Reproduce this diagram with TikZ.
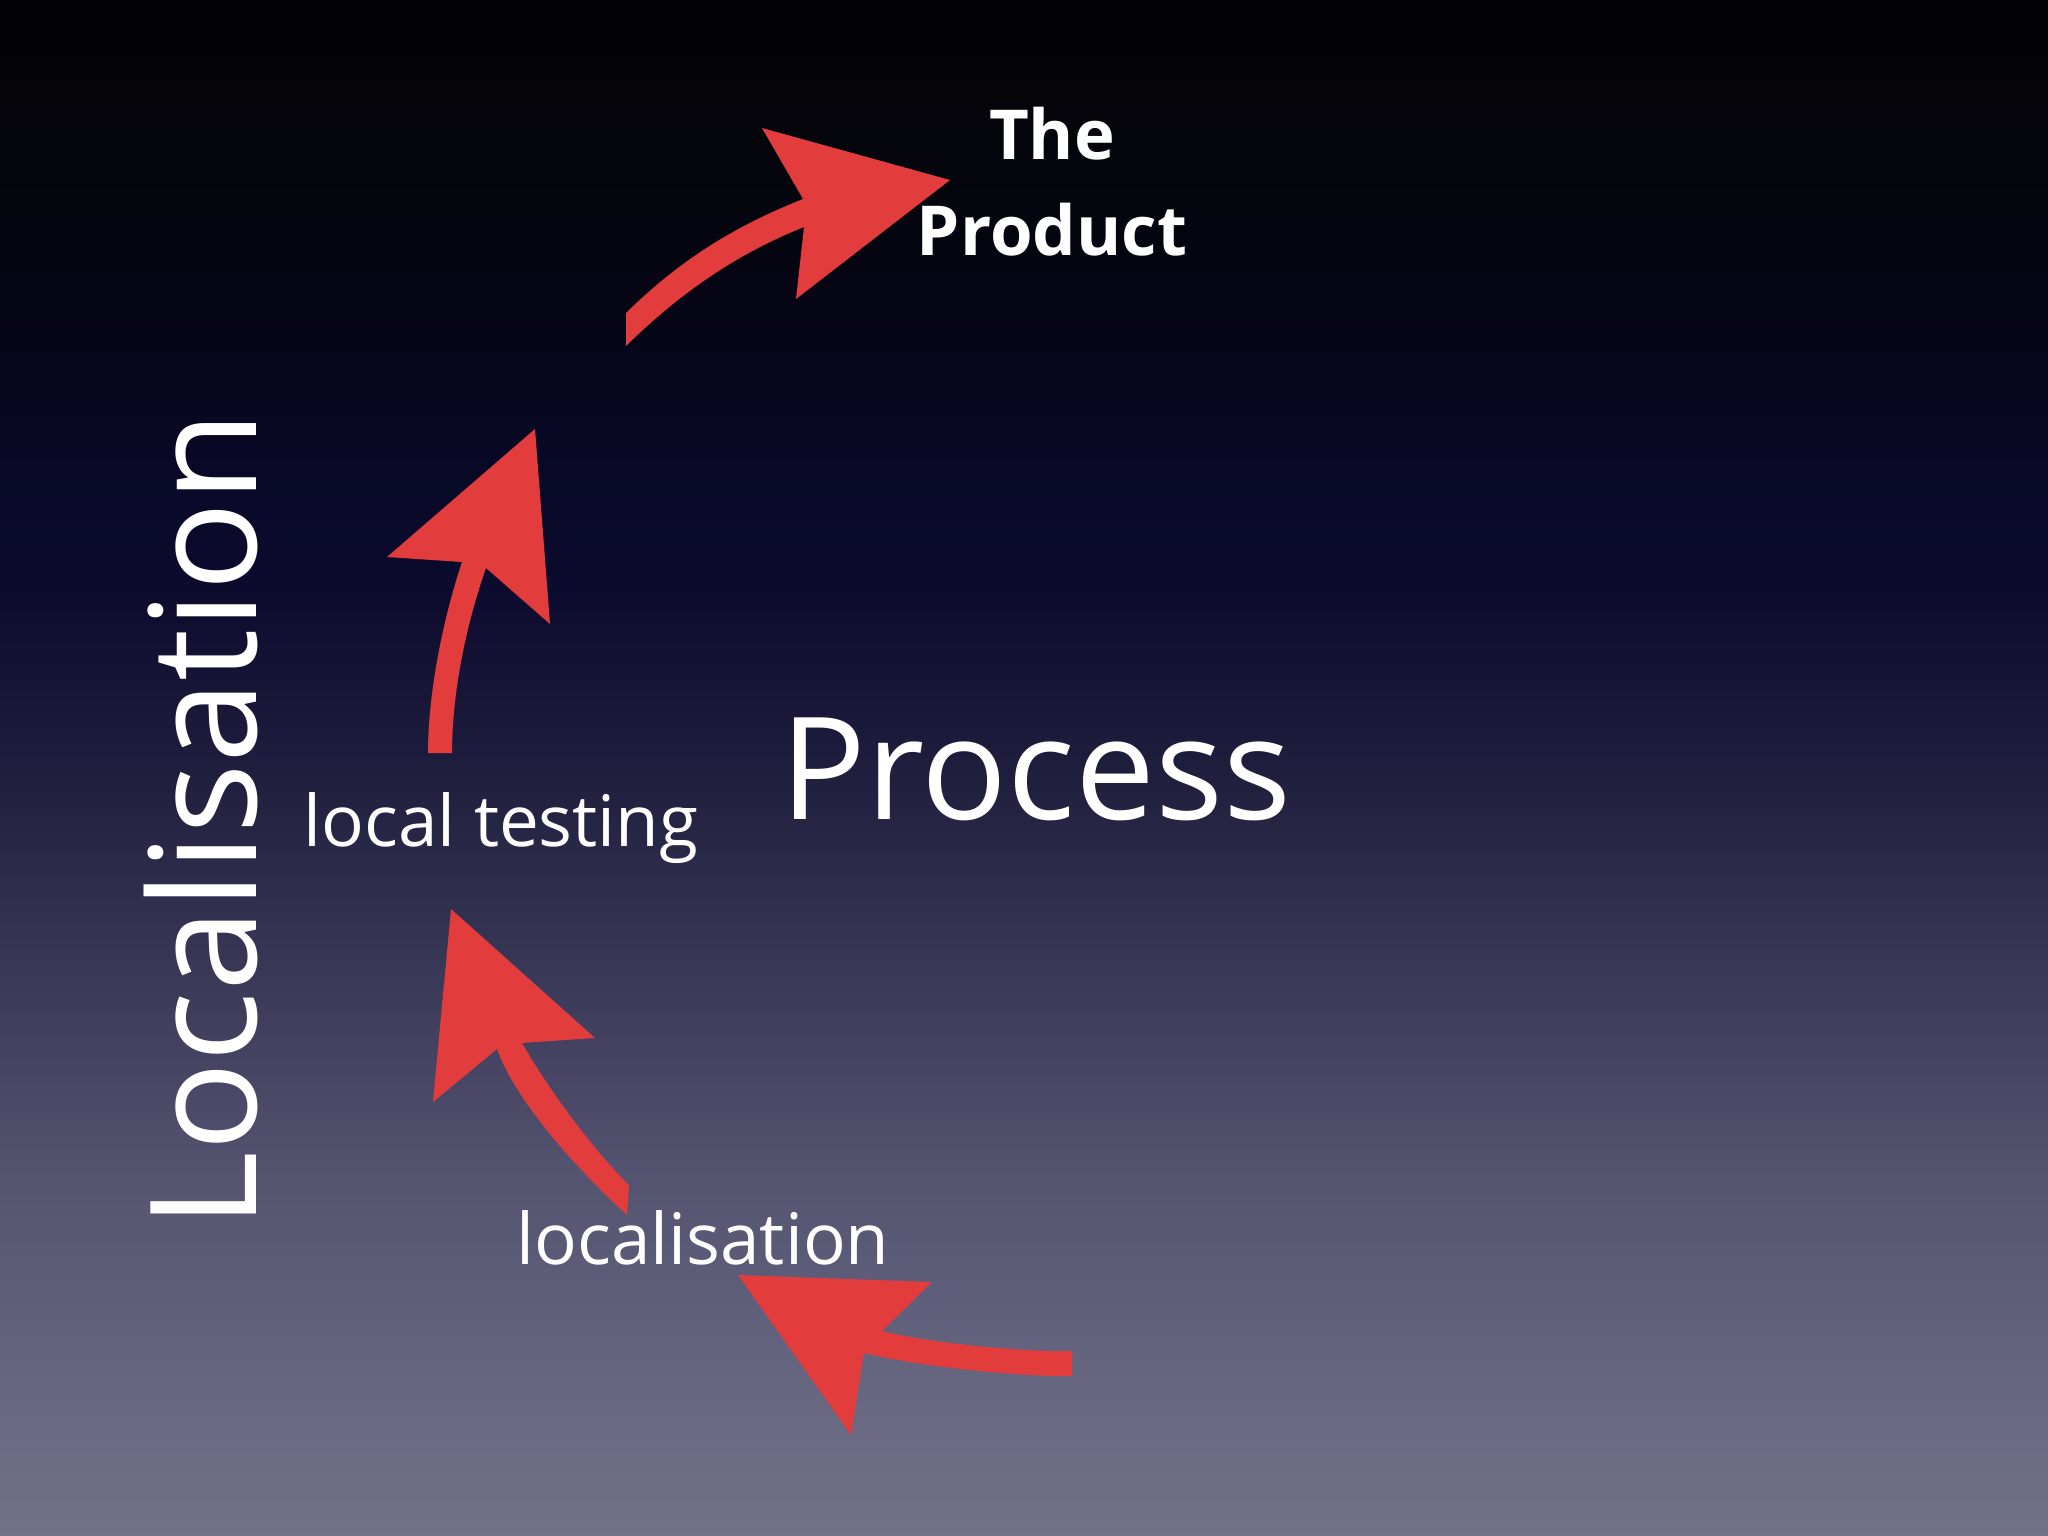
\documentclass[tikz,border=0pt]{standalone}
\usepackage{fontspec}
\setmainfont{Open Sans}
\IfFontExistsTF{Open Sans SemiBold}{\newfontfamily\semib{Open Sans SemiBold}}{\newcommand\semib{\bfseries}}
\definecolor{arrowred}{HTML}{E23C3C}
\definecolor{bgA}{HTML}{737189}
\definecolor{bgB}{HTML}{666580}
\definecolor{bgC}{HTML}{545370}
\definecolor{bgD}{HTML}{3B3958}
\definecolor{bgE}{HTML}{201F3E}
\definecolor{bgF}{HTML}{0C0B2E}
\definecolor{bgG}{HTML}{080826}
\definecolor{bgH}{HTML}{050510}
\definecolor{bgI}{HTML}{030305}
\pgfdeclareverticalshading{slidebg}{100bp}{color(0bp)=(bgA); color(25bp)=(bgA); color(30.4bp)=(bgB); color(36.75bp)=(bgC); color(43.1bp)=(bgD); color(49.6bp)=(bgE); color(55.8bp)=(bgF); color(60.35bp)=(bgG); color(66.85bp)=(bgH); color(75bp)=(bgI); color(100bp)=(bgI)}
\begin{document}
\begin{tikzpicture}[x=0.01cm,y=-0.01cm,
  label/.style={text=white, inner sep=0pt, outer sep=0pt},
  arrowshape/.style={fill=arrowred, draw=none}]
\useasboundingbox (0,0) rectangle (2048,1536);
\shade[shading=slidebg] (0,0) rectangle (2048,1536);

% texts
\node[label, anchor=base, font=\fontsize{19.6}{24}\selectfont\semib] (the) at (1052,159) {The};
\node[label, anchor=base, font=\fontsize{19.6}{24}\selectfont\semib] (product) at (1052,255) {Product};
\node[label, anchor=base, font=\fontsize{40.5}{48}\selectfont] (process) at (1036,819) {Process};
\node[label, anchor=base, font=\fontsize{20.2}{24}\selectfont] (localtesting) at (501,846) {local testing};
\node[label, anchor=base, font=\fontsize{20.2}{24}\selectfont] (localisation) at (703,1264) {localisation};
\node[label, anchor=base, rotate=90, font=\fontsize{42.1}{50}\selectfont] (vertical) at (256,820) {Localisation};

% arrow towards "The Product"
\fill[arrowshape] (950,180) -- (762,128) -- (803,199)
  .. controls (743,223) and (686,254) .. (626,313)
  -- (626,346)
  .. controls (686,287) and (744,251) .. (804,227)
  -- (796,299) -- cycle;

% arrow above "local testing"
\fill[arrowshape] (535,429) -- (387,557) -- (462,562)
  .. controls (443,619) and (428,693) .. (428,753)
  -- (452,753)
  .. controls (452,693) and (466,625) .. (486,568)
  -- (550,624) -- cycle;

% arrow above "localisation"
\fill[arrowshape] (451,909) -- (433,1102) -- (497,1049)
  .. controls (517,1105) and (586,1178) .. (627,1215)
  -- (629,1185)
  .. controls (593,1150) and (547,1087) .. (522,1043)
  -- (595,1038) -- cycle;

% arrow below "localisation"
\fill[arrowshape] (738,1275) -- (932,1282) -- (882,1331)
  .. controls (940,1345) and (1030,1352) .. (1072,1351)
  -- (1072,1376)
  .. controls (1020,1377) and (915,1366) .. (864,1353)
  -- (851,1435) -- cycle;
\end{tikzpicture}
\end{document}
